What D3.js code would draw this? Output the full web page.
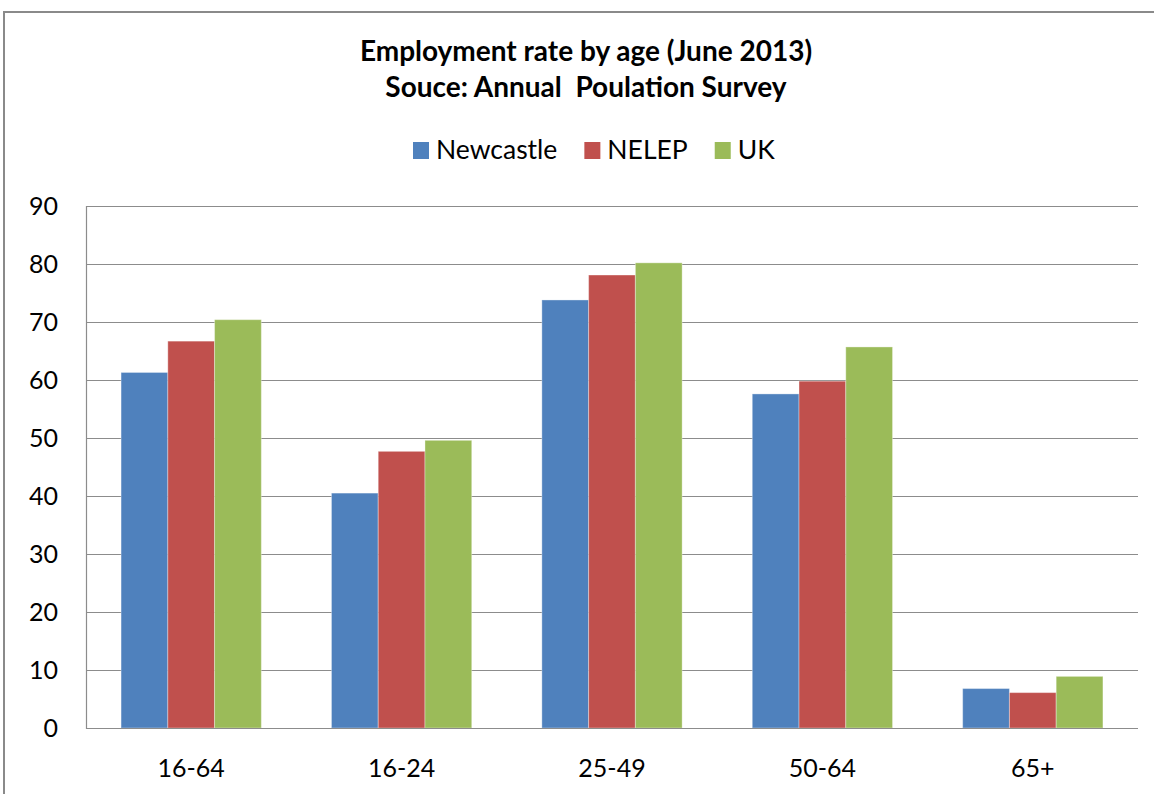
<!DOCTYPE html>
<html>
<head>
<meta charset="utf-8">
<script src="https://cdn.jsdelivr.net/npm/d3@7"></script>
<style>
  body { margin: 0; background: #fff; }
  text { font-family: Lato, "Open Sans", sans-serif; fill: #000; }
</style>
</head>
<body>
<svg id="chart" width="1154" height="794"></svg>
<script>
// chart values
var categories = ["16-64", "16-24", "25-49", "50-64", "65+"];
var seriesNames = ["Newcastle", "NELEP", "UK"];
var seriesColors = ["#4F81BD", "#C0504D", "#9BBB59"];
var newcastle = [61.3, 40.5, 73.8, 57.6, 6.8];
var nelep = [66.7, 47.7, 78.1, 59.8, 6.1];
var uk = [70.4, 49.6, 80.2, 65.7, 8.9];
var yTicks = [0, 10, 20, 30, 40, 50, 60, 70, 80, 90];
var titleLines = ["Employment rate by age (June 2013)", "Souce: Annual  Poulation Survey"];

var svg = d3.select("#chart");
var values = [newcastle, nelep, uk];

// plot box (note: "top" is taken by window.top, so use other names)
var plotL = 86, plotR = 1138, plotT = 206, plotB = 728;

// outer frame (runs off the right and bottom edge like the screenshot)
svg.append("rect")
  .attr("x", 4).attr("y", 12)
  .attr("width", 1300).attr("height", 900)
  .attr("fill", "#fff")
  .attr("stroke", "#8a8a8a")
  .attr("stroke-width", 2);

// title
svg.selectAll(".title")
  .data(titleLines)
  .enter()
  .append("text")
  .attr("class", "title")
  .attr("x", 586)
  .attr("y", function (d, i) { return 61 + i * 36; })
  .attr("text-anchor", "middle")
  .style("font-size", "28px")
  .style("font-weight", "bold")
  .style("white-space", "pre")
  .text(function (d) { return d; });

var y = d3.scaleLinear().domain([0, 90]).range([plotB, plotT]);
var x0 = d3.scaleBand().domain(categories).range([plotL, plotR]).padding(0);
var x1 = d3.scaleBand().domain(seriesNames).range([0, x0.bandwidth()])
  .paddingInner(0).paddingOuter(0.75);

// gridlines
svg.append("g")
  .selectAll("line")
  .data(yTicks)
  .enter()
  .append("line")
  .attr("x1", plotL).attr("x2", plotR)
  .attr("y1", function (d) { return Math.round(y(d)) + 0.5; })
  .attr("y2", function (d) { return Math.round(y(d)) + 0.5; })
  .attr("stroke", "#8c8c8c")
  .attr("stroke-width", 1.2);

// y axis line
svg.append("line")
  .attr("x1", plotL + 0.5).attr("x2", plotL + 0.5)
  .attr("y1", plotT).attr("y2", plotB + 1)
  .attr("stroke", "#8c8c8c").attr("stroke-width", 1.2);

// y tick labels
svg.append("g")
  .selectAll("text")
  .data(yTicks)
  .enter()
  .append("text")
  .attr("x", 58)
  .attr("y", function (d) { return y(d) + 9; })
  .attr("text-anchor", "end")
  .style("font-size", "25px")
  .text(function (d) { return d; });

// bars
var groups = svg.append("g")
  .selectAll("g")
  .data(categories)
  .enter()
  .append("g")
  .attr("transform", function (d) { return "translate(" + x0(d) + ",0)"; });

groups.selectAll("rect")
  .data(function (d, ci) {
    return seriesNames.map(function (s, si) { return { s: s, si: si, v: values[si][ci] }; });
  })
  .enter()
  .append("rect")
  .attr("x", function (d) { return x1(d.s); })
  .attr("y", function (d) { return y(d.v); })
  .attr("width", x1.bandwidth())
  .attr("height", function (d) { return y(0) - y(d.v); })
  .attr("fill", function (d) { return seriesColors[d.si]; })
  .attr("stroke", "rgba(255,255,255,0.35)")
  .attr("stroke-width", 1);

// x axis line on top of bars
svg.append("line")
  .attr("x1", plotL).attr("x2", plotR)
  .attr("y1", plotB + 0.5).attr("y2", plotB + 0.5)
  .attr("stroke", "#8c8c8c").attr("stroke-width", 1.2);

// category labels
svg.append("g")
  .selectAll("text")
  .data(categories)
  .enter()
  .append("text")
  .attr("x", function (d) { return x0(d) + x0.bandwidth() / 2; })
  .attr("y", 777)
  .attr("text-anchor", "middle")
  .style("font-size", "25px")
  .text(function (d) { return d; });

// legend
var legend = svg.append("g");
var lx = 413;
seriesNames.forEach(function (name, i) {
  legend.append("rect")
    .attr("x", lx).attr("y", 142)
    .attr("width", 16).attr("height", 17)
    .attr("fill", seriesColors[i]);
  var t = legend.append("text")
    .attr("x", lx + 23)
    .attr("y", 159)
    .style("font-size", "26.5px")
    .text(name);
  lx = lx + 23 + t.node().getComputedTextLength() + 27;
});
</script>
</body>
</html>
